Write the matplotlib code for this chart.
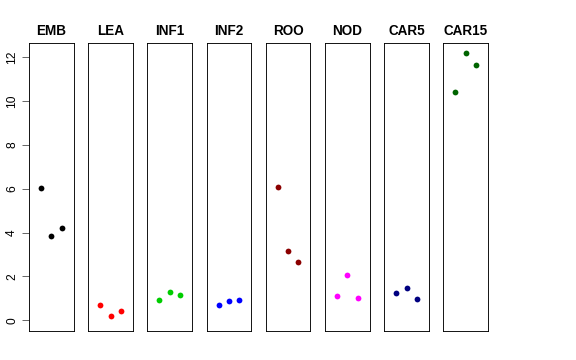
import matplotlib
matplotlib.use("Agg")
import matplotlib.pyplot as plt

groups = ["EMB", "LEA", "INF1", "INF2", "ROO", "NOD", "CAR5", "CAR15"]
colors = ["black", "red", "#00CD00", "blue", "#8B0000", "magenta", "#000080", "#006400"]
values = [
    [6.03, 3.85, 4.23],
    [0.70, 0.20, 0.43],
    [0.94, 1.31, 1.14],
    [0.72, 0.88, 0.91],
    [6.09, 3.15, 2.68],
    [1.10, 2.06, 1.02],
    [1.26, 1.48, 0.96],
    [10.42, 12.17, 11.63],
]
y_ticks = [0, 2, 4, 6, 8, 10, 12]

plt.rcParams["font.family"] = ["Liberation Sans", "DejaVu Sans"]

W, H = 576, 360
fig = plt.figure(figsize=(W / 72, H / 72), dpi=72)

ymax = max(max(v) for v in values)
ylo, yhi = 0 - 0.04 * ymax, ymax + 0.04 * ymax

left0, step, width = 29.0, 59.2, 44.6
top, bottom = 42.7, 331.0
for i, (name, col, vals) in enumerate(zip(groups, colors, values)):
    ax = fig.add_axes([(left0 + i * step) / W, (H - bottom) / H,
                       width / W, (bottom - top) / H])
    ax.plot([1, 2, 3], vals, "o", color=col, markersize=5.8, markeredgewidth=0)
    ax.set_xlim(-0.16, 4.16)
    ax.set_ylim(ylo, yhi)
    ax.set_title(name, fontsize=13.5, fontweight="bold", pad=8)
    ax.set_xticks([])
    for s in ax.spines.values():
        s.set_linewidth(0.9)
        s.set_color("black")
    if i == 0:
        ax.set_yticks(y_ticks)
        ax.tick_params(axis="y", length=7, width=0.8, pad=4, labelsize=12,
                       color="#444444")
        for lab in ax.get_yticklabels():
            lab.set_rotation(90)
            lab.set_va("center")
    else:
        ax.set_yticks([])

fig.savefig("out.png", dpi=72)
